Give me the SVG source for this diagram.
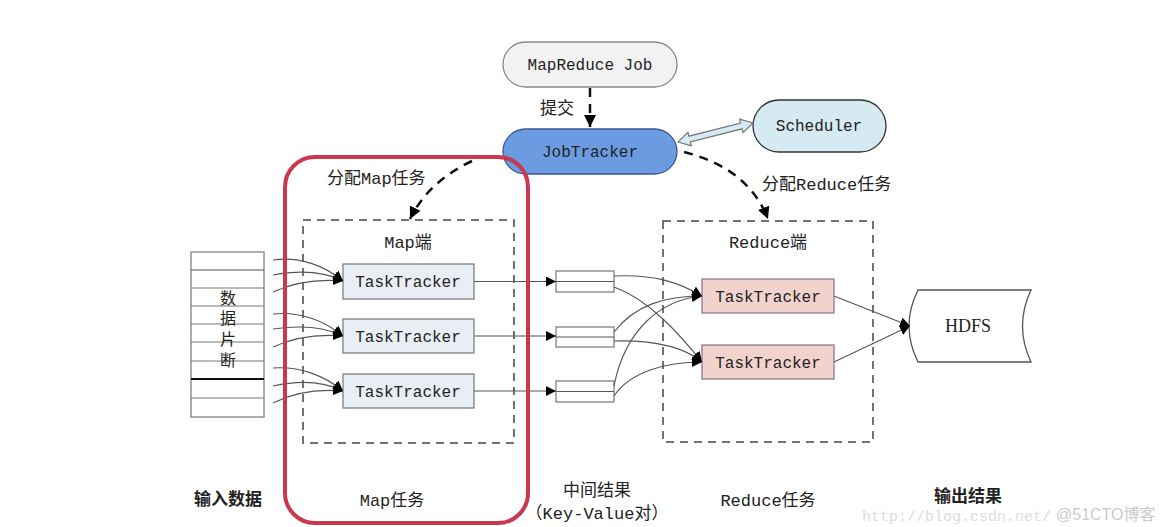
<svg xmlns="http://www.w3.org/2000/svg" width="1164" height="527" viewBox="0 0 1164 527">
<style>
.mono{font-family:"Liberation Mono","Noto Sans CJK SC",monospace;font-size:16px;fill:#222}
.lbl{font-family:"Liberation Mono","Noto Sans CJK SC",monospace;font-size:17px;fill:#222}
.cjk{font-family:"Liberation Serif","Noto Sans CJK SC",serif;font-size:16px;fill:#222}
.bold{font-weight:bold}
.tt{fill:#e9edf4;stroke:#777;stroke-width:1.2}
.rt{fill:#f2d2cc;stroke:#777;stroke-width:1.2}
.ln{fill:none;stroke:#555;stroke-width:1.1}
.dash{fill:none;stroke:#111;stroke-width:2.5;stroke-dasharray:9 7}
.region{fill:none;stroke:#444;stroke-width:1.5;stroke-dasharray:8 6}
.cell{fill:#fff;stroke:#777;stroke-width:1.2}
.wm{font-family:"Liberation Mono",monospace;font-size:15px;fill:#ddd}
</style>
<defs>
<marker id="ah" viewBox="0 0 10 10" refX="10" refY="5" markerWidth="10" markerHeight="10" markerUnits="userSpaceOnUse" orient="auto">
<path d="M0,0 L10,5 L0,10 z" fill="#000"/>
</marker>
<marker id="ahb" viewBox="0 0 10 10" refX="10" refY="5" markerWidth="12" markerHeight="12" markerUnits="userSpaceOnUse" orient="auto">
<path d="M0,0 L10,5 L0,10 z" fill="#000"/>
</marker>
</defs>
<rect width="1164" height="527" fill="#fff"/>

<g id="map-region">
<rect class="region" x="303" y="220" width="211" height="223"/>
<text class="lbl" x="408" y="248" text-anchor="middle">Map端</text>
</g>
<g id="reduce-region">
<rect class="region" x="663" y="221" width="210" height="221"/>
<text class="lbl" x="768" y="248" text-anchor="middle">Reduce端</text>
</g>

<g id="input-data">
<rect class="cell" x="191" y="252" width="73" height="165"/>
<line x1="191" y1="270" x2="264" y2="270" stroke="#555" stroke-width="1.2"/>
<line x1="191" y1="288" x2="264" y2="288" stroke="#777" stroke-width="1.2"/>
<line x1="191" y1="306" x2="264" y2="306" stroke="#777" stroke-width="1.2"/>
<line x1="191" y1="324" x2="264" y2="324" stroke="#777" stroke-width="1.2"/>
<line x1="191" y1="342" x2="264" y2="342" stroke="#777" stroke-width="1.2"/>
<line x1="191" y1="361" x2="264" y2="361" stroke="#777" stroke-width="1.2"/>
<line x1="191" y1="379" x2="264" y2="379" stroke="#111" stroke-width="1.8"/>
<line x1="191" y1="398" x2="264" y2="398" stroke="#777" stroke-width="1.2"/>
<text class="cjk" x="228" y="304" text-anchor="middle">数</text>
<text class="cjk" x="228" y="324" text-anchor="middle">据</text>
<text class="cjk" x="228" y="345" text-anchor="middle">片</text>
<text class="cjk" x="228" y="366" text-anchor="middle">断</text>
</g>

<g id="mapreduce-job">
<rect x="503" y="42" width="174" height="45" rx="22.5" fill="#f2f2f2" stroke="#888" stroke-width="1.3"/>
<text class="mono" x="590" y="70" text-anchor="middle">MapReduce Job</text>
</g>
<g id="jobtracker">
<rect x="503" y="129" width="174" height="45" rx="22.5" fill="#6b9be0" stroke="#3b5a8a" stroke-width="1.3"/>
<text class="mono" x="590" y="157" text-anchor="middle">JobTracker</text>
</g>
<g id="scheduler">
<rect x="753" y="100" width="133" height="52" rx="26" fill="#d6eaf4" stroke="#333" stroke-width="1.3"/>
<text class="mono" x="819" y="131" text-anchor="middle">Scheduler</text>
</g>

<g id="map-tt1"><rect class="tt" x="343" y="264" width="131" height="35"/><text class="mono" x="408" y="287" text-anchor="middle">TaskTracker</text></g>
<g id="map-tt2"><rect class="tt" x="343" y="319" width="131" height="34"/><text class="mono" x="408" y="342" text-anchor="middle">TaskTracker</text></g>
<g id="map-tt3"><rect class="tt" x="343" y="374" width="131" height="34"/><text class="mono" x="408" y="397" text-anchor="middle">TaskTracker</text></g>

<g id="kv1"><rect class="cell" x="556" y="271" width="58" height="21"/><line x1="556" y1="281.5" x2="614" y2="281.5" stroke="#555"/></g>
<g id="kv2"><rect class="cell" x="556" y="327" width="58" height="20"/><line x1="556" y1="337" x2="614" y2="337" stroke="#555"/></g>
<g id="kv3"><rect class="cell" x="556" y="381" width="58" height="21"/><line x1="556" y1="391.5" x2="614" y2="391.5" stroke="#555"/></g>

<g id="reduce-tt1"><rect class="rt" x="702" y="279" width="132" height="34"/><text class="mono" x="768" y="302" text-anchor="middle">TaskTracker</text></g>
<g id="reduce-tt2"><rect class="rt" x="702" y="345" width="132" height="34"/><text class="mono" x="768" y="368" text-anchor="middle">TaskTracker</text></g>

<g id="hdfs">
<path d="M918,290 L1031,290 Q1014,326 1031,362 L918,362 Q900,326 918,290 z" fill="#fff" stroke="#555" stroke-width="1.3"/>
<text x="968" y="332" text-anchor="middle" font-family="Liberation Serif, serif" font-size="18" fill="#222">HDFS</text>
</g>

<g id="connectors">
<line class="dash" x1="590" y1="88" x2="590" y2="127" marker-end="url(#ahb)"/>
<text class="lbl" x="540" y="114">提交</text>
<polygon points="678,142 691.3,145.9 690.4,142 742.1,128.8 743.1,132.7 753,123 739.7,119.1 740.6,123 688.9,136.2 687.9,132.3" fill="#d6eaf4" stroke="#777" stroke-width="1.2"/>
<path class="dash" d="M472,161 Q428,182 410,219" marker-end="url(#ahb)"/>
<path class="dash" d="M684,152 Q748,168 768,219" marker-end="url(#ahb)"/>
<text class="lbl" x="327" y="184">分配Map任务</text>
<text class="lbl" x="762" y="190">分配Reduce任务</text>

<path class="ln" d="M273,260 C300,256 325,266 343,281" marker-end="url(#ah)"/>
<path class="ln" d="M273,275 C300,270 325,272 343,281" marker-end="url(#ah)"/>
<path class="ln" d="M273,292 C295,282 320,279 343,281" marker-end="url(#ah)"/>
<path class="ln" d="M273,314 C300,311 325,321 343,336" marker-end="url(#ah)"/>
<path class="ln" d="M273,329 C300,325 325,327 343,336" marker-end="url(#ah)"/>
<path class="ln" d="M273,347 C295,337 320,334 343,336" marker-end="url(#ah)"/>
<path class="ln" d="M273,368 C300,366 325,376 343,391" marker-end="url(#ah)"/>
<path class="ln" d="M273,386 C300,380 325,382 343,391" marker-end="url(#ah)"/>
<path class="ln" d="M273,403 C295,392 320,389 343,391" marker-end="url(#ah)"/>

<line class="ln" x1="474" y1="281.5" x2="556" y2="281.5" marker-end="url(#ah)"/>
<line class="ln" x1="474" y1="336" x2="556" y2="336" marker-end="url(#ah)"/>
<line class="ln" x1="474" y1="391" x2="556" y2="391" marker-end="url(#ah)"/>

<path class="ln" d="M614,276 C655,274 680,283 702,296" marker-end="url(#ah)"/>
<path class="ln" d="M614,287 C650,300 680,335 702,362" marker-end="url(#ah)"/>
<path class="ln" d="M614,332 C635,305 665,296 702,296" marker-end="url(#ah)"/>
<path class="ln" d="M614,341 C655,340 685,348 702,362" marker-end="url(#ah)"/>
<path class="ln" d="M614,386 C625,330 660,300 702,296" marker-end="url(#ah)"/>
<path class="ln" d="M614,396 C630,372 665,362 702,362" marker-end="url(#ah)"/>

<path class="ln" d="M834,296 L910,326" marker-end="url(#ah)"/>
<path class="ln" d="M834,362 L910,326" marker-end="url(#ah)"/>
</g>

<g id="highlight">
<rect x="285" y="157" width="243" height="366" rx="30" fill="none" stroke="#c8384f" stroke-width="4"/>
</g>

<g id="labels">
<text class="lbl bold" x="228" y="505" text-anchor="middle">输入数据</text>
<text class="lbl" x="392" y="506" text-anchor="middle">Map任务</text>
<text class="lbl" x="597" y="496" text-anchor="middle">中间结果</text>
<text class="lbl" x="597" y="519" text-anchor="middle">（Key-Value对）</text>
<text class="lbl" x="768" y="506" text-anchor="middle">Reduce任务</text>
<text class="wm" x="862" y="521">http://blog.csdn.net/</text>
<text class="lbl bold" x="968" y="502" text-anchor="middle">输出结果</text>
<text x="1056" y="520" font-family="Liberation Sans, Noto Sans CJK SC, sans-serif" font-size="16" fill="#ccc">@51CTO博客</text>
</g>
</svg>
